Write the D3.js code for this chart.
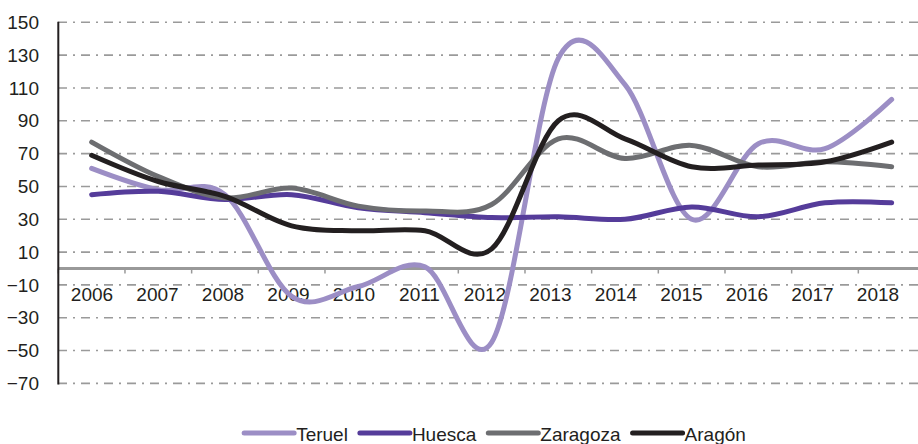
<!DOCTYPE html>
<meta charset="utf-8">
<script src="https://d3js.org/d3.v7.min.js"></script>
<html>
<style>
body { margin: 0; background: #fff; }
text { font-family: "Liberation Sans", Arial, sans-serif; fill: #231f20; }
</style>
<body>
<svg id="chart" width="918" height="444"></svg>
<script>

// categories
var years = ["2006","2007","2008","2009","2010","2011","2012","2013","2014","2015","2016","2017","2018"];

// series values
var teruel   = [61, 48, 45, -17, -11, 1, -45, 128, 112, 30, 76, 73, 103];
var huesca   = [45, 47, 42, 45, 37, 34, 31, 31.5, 30, 37.5, 31.5, 40, 40];
var zaragoza = [77, 56, 43, 49, 38, 35, 39, 79, 67, 75, 62, 65, 62];
var aragon   = [69, 53, 44, 26, 23, 23, 12, 90, 79, 62, 63, 65, 77];

var seriesNames = ["Teruel", "Huesca", "Zaragoza", "Aragón"];
var seriesColors = ["#9c8ec5", "#553c9a", "#6d6e71", "#231f20"];
var yTicks = [150, 130, 110, 90, 70, 50, 30, 10, -10, -30, -50, -70];

var series = [teruel, huesca, zaragoza, aragon];

var svg = d3.select("#chart");

// scales
var x = d3.scaleBand().domain(years).range([58.3, 925]).padding(0);
var xLabel = d3.scalePoint().domain(years).range([92, 878]);
var y = d3.scaleLinear().domain([-70, 150]).range([383.4, 22.3]);

// grid lines (dash-dot)
svg.append("g")
  .selectAll("line")
  .data(yTicks)
  .enter()
  .append("line")
    .attr("x1", 58)
    .attr("x2", 918)
    .attr("y1", function(d) { return y(d); })
    .attr("y2", function(d) { return y(d); })
    .attr("stroke", "#9a9a9a")
    .attr("stroke-width", 1.6)
    .attr("stroke-dasharray", "9,6,2,6");

// y axis labels
var yAxis = svg.append("g")
  .attr("transform", "translate(58,0)")
  .call(d3.axisLeft(y).tickValues(yTicks).tickSize(0).tickPadding(19));
yAxis.select(".domain").remove();
yAxis.selectAll("text")
  .style("font-size", "19px")
  .attr("fill", "#231f20")
  .attr("font-family", null);

// x axis line at zero
svg.append("line")
  .attr("x1", 58)
  .attr("x2", 918)
  .attr("y1", y(0))
  .attr("y2", y(0))
  .attr("stroke", "#999")
  .attr("stroke-width", 3);

// x ticks at band boundaries
svg.append("g")
  .selectAll("line")
  .data(years)
  .enter()
  .append("line")
    .attr("x1", function(d) { return x(d); })
    .attr("x2", function(d) { return x(d); })
    .attr("y1", y(0))
    .attr("y2", y(0) + 5)
    .attr("stroke", "#999")
    .attr("stroke-width", 1.5);

// x labels
svg.append("g")
  .selectAll("text")
  .data(years)
  .enter()
  .append("text")
    .attr("x", function(d) { return xLabel(d); })
    .attr("y", 301)
    .attr("text-anchor", "middle")
    .style("font-size", "19px")
    .text(function(d) { return d; });

// y axis line
svg.append("line")
  .attr("x1", 58.3)
  .attr("x2", 58.3)
  .attr("y1", y(150) - 0.5)
  .attr("y2", y(-70) + 1)
  .attr("stroke", "#231f20")
  .attr("stroke-width", 2);

// lines (Excel style smoothing)
var line = d3.line()
  .x(function(d, i) { return x(years[i]) + x.bandwidth() / 2; })
  .y(function(d) { return y(d); })
  .curve(d3.curveCardinal.tension(0));

svg.append("g")
  .selectAll("path")
  .data(series)
  .enter()
  .append("path")
    .attr("d", line)
    .attr("fill", "none")
    .attr("stroke", function(d, i) { return seriesColors[i]; })
    .attr("stroke-width", 5)
    .attr("stroke-linecap", "round")
    .attr("stroke-linejoin", "round");

// legend: laid out left to right, centred under the chart
var legend = svg.append("g");
var items = legend.selectAll("g")
  .data(seriesNames)
  .enter()
  .append("g");

items.append("line")
  .attr("x1", 0)
  .attr("x2", 50)
  .attr("stroke", function(d, i) { return seriesColors[i]; })
  .attr("stroke-width", 5)
  .attr("stroke-linecap", "round");

items.append("text")
  .attr("x", 52)
  .attr("y", 7.5)
  .style("font-size", "19px")
  .text(function(d) { return d; });

var pos = 0;
items.each(function() {
  var w = 52 + d3.select(this).select("text").node().getComputedTextLength();
  d3.select(this).attr("transform", "translate(" + pos + ",0)");
  pos += w + 12;
});
var total = pos - 12;
legend.attr("transform", "translate(" + (495 - total / 2) + ",433)");

</script>
</body>
</html>
